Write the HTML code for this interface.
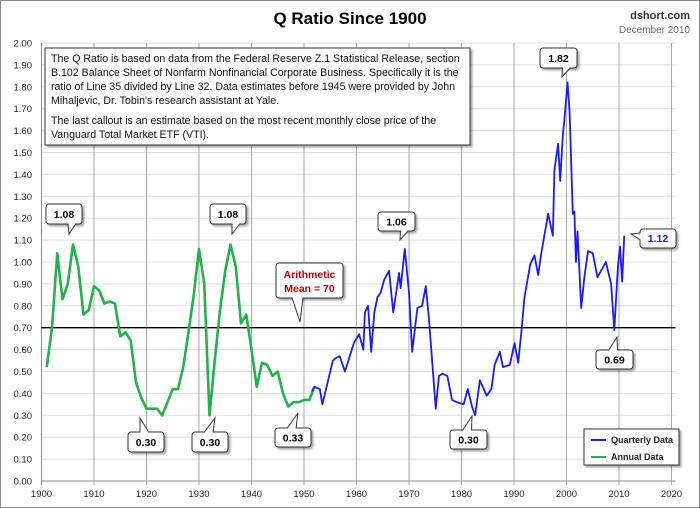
<!DOCTYPE html>
<html><head><meta charset="utf-8">
<style>
html,body{margin:0;padding:0;background:#fff;}
svg{display:block;font-family:"Liberation Sans",sans-serif;}
</style></head>
<body>
<svg id="chart" width="700" height="508" viewBox="0 0 700 508" xmlns="http://www.w3.org/2000/svg">
<rect x="0.5" y="0.5" width="699" height="507" fill="#fff" stroke="#888"/>
<text x="350" y="24" text-anchor="middle" font-size="17" font-weight="bold" fill="#000">Q Ratio Since 1900</text>
<text x="690" y="19" text-anchor="end" font-size="11" font-weight="bold" fill="#333">dshort.com</text>
<text x="690" y="33" text-anchor="end" font-size="10" fill="#666">December 2010</text>
<g id="grid"></g>
<g id="series"></g>
<g id="annot"></g>
</svg>
<script>
const yTicks=[0,0.1,0.2,0.3,0.4,0.5,0.6,0.7,0.8,0.9,1.0,1.1,1.2,1.3,1.4,1.5,1.6,1.7,1.8,1.9,2.0];
const xTicks=[1900,1910,1920,1930,1940,1950,1960,1970,1980,1990,2000,2010,2020];
const meanValue=0.70;
const annualYears=[1901,1902,1903,1904,1905,1906,1907,1908,1909,1910,1911,1912,1913,1914,1915,1916,1917,1918,1919,1920,1921,1922,1923,1924,1925,1926,1927,1928,1929,1930,1931,1932,1933,1934,1935,1936,1937,1938,1939,1940,1941,1942,1943,1944,1945,1946,1947,1948,1949,1950,1951,1952];
const annualValues=[0.52,0.70,1.04,0.83,0.90,1.08,0.98,0.76,0.78,0.89,0.87,0.81,0.82,0.81,0.66,0.68,0.64,0.45,0.38,0.33,0.33,0.33,0.30,0.36,0.42,0.42,0.52,0.68,0.85,1.06,0.90,0.30,0.55,0.78,0.96,1.08,0.98,0.72,0.76,0.60,0.43,0.54,0.53,0.48,0.50,0.40,0.34,0.36,0.36,0.37,0.37,0.43];
const quarterlyYears=[1951.5,1952,1953,1953.5,1954.5,1955.5,1956,1956.8,1957.8,1959.5,1960.5,1961.3,1961.6,1962.2,1962.8,1963.4,1964.0,1964.6,1965.3,1966.2,1967.0,1968.1,1968.4,1969.2,1970.0,1970.6,1971.6,1972.5,1973.2,1973.8,1975.1,1975.7,1976.4,1977.3,1978.2,1979.1,1980.4,1981.2,1982.0,1982.6,1983.5,1984.8,1985.7,1986.3,1987.3,1987.9,1989.2,1990.1,1990.8,1991.4,1992.0,1993.1,1993.9,1994.6,1995.2,1996.5,1997.4,1997.7,1998.4,1998.8,1999.3,1999.6,2000.2,2000.6,2001.2,2001.5,2001.8,2002.1,2002.8,2003.4,2004.1,2005.0,2005.9,2007.5,2008.5,2009.1,2009.8,2010.2,2010.6,2011.0];
const quarterlyValues=[0.41,0.43,0.42,0.35,0.45,0.55,0.56,0.57,0.50,0.63,0.67,0.60,0.77,0.80,0.59,0.77,0.84,0.86,0.92,0.96,0.77,0.95,0.88,1.06,0.86,0.59,0.79,0.80,0.89,0.74,0.33,0.48,0.49,0.48,0.37,0.36,0.35,0.42,0.34,0.30,0.46,0.39,0.42,0.53,0.59,0.52,0.53,0.63,0.54,0.68,0.84,0.99,1.03,0.94,1.04,1.22,1.12,1.42,1.54,1.37,1.58,1.65,1.82,1.68,1.22,1.23,1.00,1.14,0.79,0.93,1.05,1.04,0.93,1.00,0.90,0.69,0.98,1.07,0.91,1.12];
const callouts=[
 {label:"1.08",x:46,y:204,w:36,h:20,tx:69,ty:234,up:false,color:"#000"},
 {label:"1.08",x:210,y:204,w:36,h:20,tx:232,ty:234,up:false,color:"#000"},
 {label:"1.06",x:378,y:212,w:37,h:19,tx:400,ty:240,up:false,color:"#000"},
 {label:"1.82",x:540,y:48,w:37,h:20,tx:562,ty:77,up:false,color:"#000"},
 {label:"0.30",x:128,y:432,w:36,h:20,tx:140,ty:418,up:true,color:"#000"},
 {label:"0.30",x:192,y:432,w:36,h:20,tx:215,ty:418,up:true,color:"#000"},
 {label:"0.33",x:275,y:428,w:36,h:19,tx:298,ty:413,up:true,color:"#000"},
 {label:"0.30",x:450,y:430,w:37,h:19,tx:472,ty:416,up:true,color:"#000"},
 {label:"0.69",x:596,y:350,w:37,h:19,tx:617,ty:337,up:true,color:"#000"},
];
const NS="http://www.w3.org/2000/svg";
const X0=41.5,X1=671.5,Y0=481,Y1=43;
function xs(v){return X0+(v-1900)/120*(X1-X0);}
function ys(v){return Y0-(v/2)*(Y0-Y1);}
function mk(t,a,p){const e=document.createElementNS(NS,t);for(const k in a)e.setAttribute(k,a[k]);p.appendChild(e);return e;}
const grid=document.getElementById('grid');
yTicks.forEach(v=>{
 const l=mk('line',{x1:X0,x2:X1+4,y1:ys(v),y2:ys(v),stroke:v===0?'#888':'#ddd','stroke-width':1},grid);
 
 
 const t=mk('text',{x:32,y:ys(v)+3.5,'text-anchor':'end','font-size':9.5,fill:'#222'},grid);
 t.textContent=v.toFixed(2);
 
 
});
xTicks.forEach(v=>{
 const l=mk('line',{x1:xs(v),x2:xs(v),y1:Y1,y2:Y0+4,stroke:v===1900?'#888':'#aaa','stroke-width':1},grid);
 
 
 const t=mk('text',{x:xs(v),y:497,'text-anchor':'middle','font-size':9.5,fill:'#222'},grid);
 t.textContent=v;
 
 
});
const ser=document.getElementById('series');
const ml=mk('line',{x1:X0,x2:X1+4,y1:ys(meanValue),y2:ys(meanValue),stroke:'#000','stroke-width':1.3},ser);


const ga=mk('polyline',{points:annualYears.map((y,i)=>xs(y)+','+ys(annualValues[i])).join(' '),fill:'none',stroke:'#22b14c','stroke-width':2.6,'stroke-linejoin':'round'},ser);


const qa=mk('polyline',{points:quarterlyYears.map((y,i)=>xs(y)+','+ys(quarterlyValues[i])).join(' '),fill:'none',stroke:'#1a1aff','stroke-width':1.8,'stroke-linejoin':'round'},ser);


const an=document.getElementById('annot');
function box(x,y,w,h,p){return mk('rect',{x:x,y:y,width:w,height:h,rx:3,fill:'#fff',stroke:'#333','stroke-width':1,filter:'url(#sh)'},p);}
const defs=mk('defs',{},an);
const f=mk('filter',{id:'sh',x:'-20%',y:'-20%',width:'150%',height:'150%'},defs);
mk('feDropShadow',{dx:2,dy:2,stdDeviation:1,'flood-color':'#000','flood-opacity':0.35},f);
callouts.forEach(c=>{
 const g=mk('g',{},an);
 
 
 box(c.x,c.y,c.w,c.h,g);
 const cx=c.x+c.w/2;
 let pts;
 if(c.up) pts=`${cx-6},${c.y+0.5} ${c.tx},${c.ty} ${cx+3},${c.y+0.5}`;
 else pts=`${cx+4},${c.y+c.h-0.5} ${c.tx},${c.ty} ${cx+12},${c.y+c.h-0.5}`;
 mk('polyline',{points:pts,fill:'#fff',stroke:'#333','stroke-width':1},g);
 const t=mk('text',{x:cx,y:c.y+c.h/2+4,'text-anchor':'middle','font-size':10.5,'font-weight':'bold',fill:c.color},g);
 t.textContent=c.label;
});
// 1.12 callout (tail to the left)
(function(){
 const g=mk('g',{},an);
 
 
 box(640,229,36,19,g);
 mk('polyline',{points:'640.5,233 631,234 640.5,240',fill:'#fff',stroke:'#333','stroke-width':1},g);
 const t=mk('text',{x:658,y:242,'text-anchor':'middle','font-size':10.5,'font-weight':'bold',fill:'#1a1aff'},g);
 t.textContent='1.12';
 const m=mk('g',{},an);
 
 
 box(276,263,67,35,m);
 mk('polyline',{points:'292,297.5 300,322 303,297.5',fill:'#fff',stroke:'#333','stroke-width':1},m);
 const t1=mk('text',{x:309.5,y:278,'text-anchor':'middle','font-size':10.5,'font-weight':'bold',fill:'#c00000'},m);t1.textContent='Arithmetic';
 const t2=mk('text',{x:309.5,y:292,'text-anchor':'middle','font-size':10.5,'font-weight':'bold',fill:'#c00000'},m);t2.textContent='Mean = 70';
 const n=mk('g',{},an);
 
 
 mk('rect',{x:45,y:48,width:425,height:97,fill:'#fff',stroke:'#333','stroke-width':1,filter:'url(#sh)'},n);
 const lines=[["The Q Ratio is based on data from the Federal Reserve Z.1 Statistical Release, section",62],["B.102 Balance Sheet of Nonfarm Nonfinancial Corporate Business. Specifically it is the",76],["ratio of Line 35 divided by Line 32. Data estimates before 1945 were provided by John",90],["Mihaljevic, Dr. Tobin's research assistant at Yale.",104],["The last callout is an estimate based on the most recent monthly close price of the",124],["Vanguard Total Market ETF (VTI).",138]];
 lines.forEach(l=>{const t=mk('text',{x:51,y:l[1],'font-size':10.6,fill:'#111'},n);t.textContent=l[0];});
 const lg=mk('g',{},an);
 
 
 mk('rect',{x:584,y:429,width:95,height:36,fill:'#fff',stroke:'#333','stroke-width':1,filter:'url(#sh)'},lg);
 mk('line',{x1:591,x2:606,y1:440,y2:440,stroke:'#1a1aff','stroke-width':2},lg);
 mk('line',{x1:591,x2:606,y1:457,y2:457,stroke:'#22b14c','stroke-width':2},lg);
 const a=mk('text',{x:611,y:443,'font-size':9,'font-weight':'bold',fill:'#222'},lg);a.textContent='Quarterly Data';
 const b=mk('text',{x:611,y:460,'font-size':9,'font-weight':'bold',fill:'#222'},lg);b.textContent='Annual Data';
})();
</script>
</body></html>
